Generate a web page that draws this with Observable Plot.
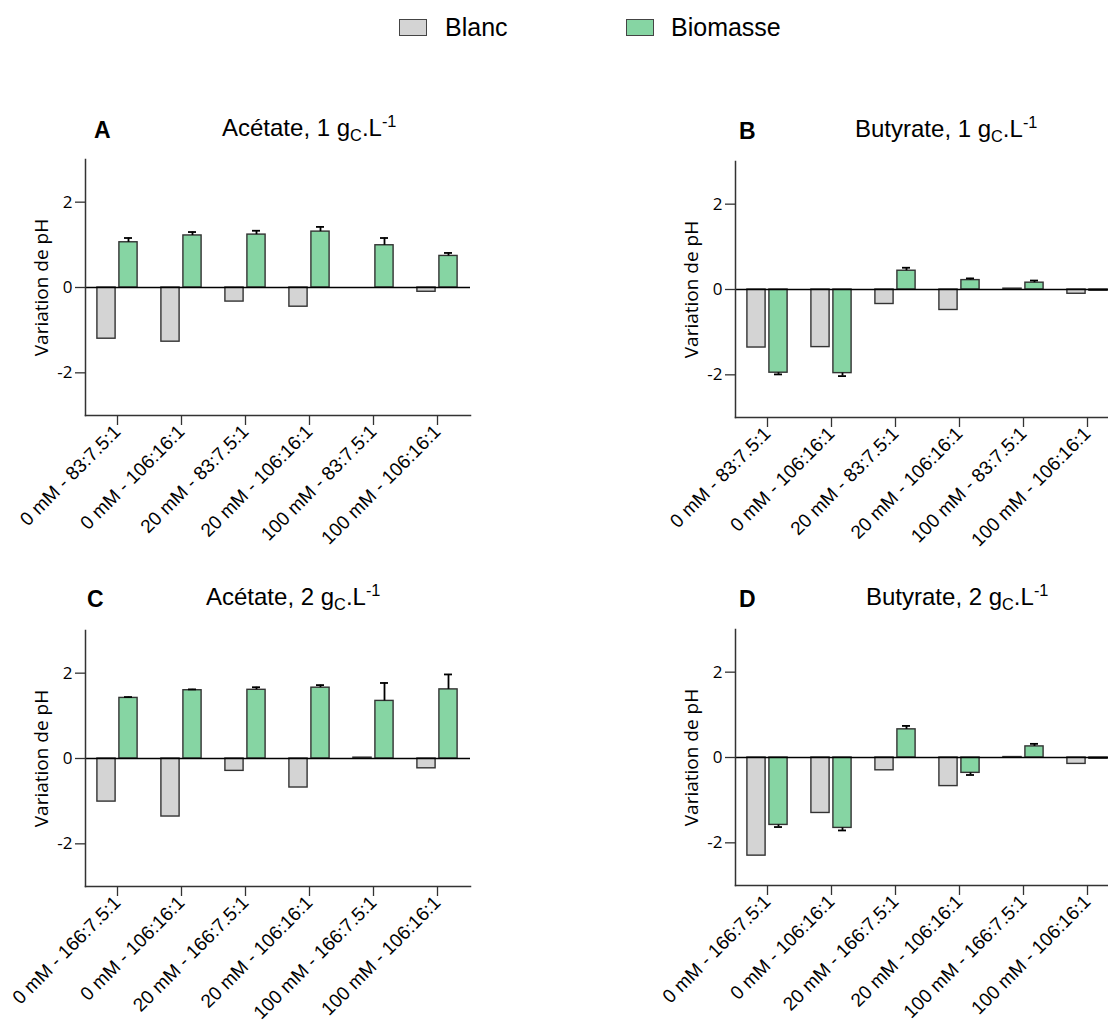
<!DOCTYPE html>
<html>
<head>
<meta charset="utf-8">
<script src="https://cdn.jsdelivr.net/npm/d3@7"></script>
<script src="https://cdn.jsdelivr.net/npm/@observablehq/plot@0.6"></script>
<style>
  html, body { margin: 0; padding: 0; overflow: hidden; background: #fff; }
  #root { position: relative; width: 1108px; height: 1025px; overflow: hidden; font-family: "Liberation Sans", Arial, sans-serif; color: #000; }
  .panel { position: absolute; width: 490px; height: 426px; }
  .panel svg { max-width: none !important; }
  .title { position: absolute; font-size: 24px; line-height: 24px; white-space: nowrap; }
  .letter { position: absolute; font-size: 23px; line-height: 23px; font-weight: bold; }
  .sub { position: relative; top: 0.3em; font-size: 0.68em; }
  .sup { position: relative; top: -0.55em; font-size: 0.68em; }
  .legend-box { position: absolute; width: 26px; height: 15px; border: 1.3px solid #444; }
  .legend-text { position: absolute; font-size: 25px; line-height: 25px; }
</style>
</head>
<body>
<div id="root"></div>
<script>
// ---------- data ----------
const groups = ["Blanc", "Biomasse"];
const groupColors = ["#d4d4d4", "#86d5a3"];

const categories1 = ["0 mM - 83:7.5:1", "0 mM - 106:16:1", "20 mM - 83:7.5:1", "20 mM - 106:16:1", "100 mM - 83:7.5:1", "100 mM - 106:16:1"];
const categories2 = ["0 mM - 166:7.5:1", "0 mM - 106:16:1", "20 mM - 166:7.5:1", "20 mM - 106:16:1", "100 mM - 166:7.5:1", "100 mM - 106:16:1"];
const yTicks = [-2, 0, 2];

// A: Acétate 1 gC/L
const blancA = [-1.20, -1.27, -0.33, -0.45, 0.00, -0.10];
const biomasseA = [1.06, 1.22, 1.24, 1.31, 0.99, 0.74];
const biomasseErrA = [0.10, 0.08, 0.09, 0.11, 0.17, 0.07];
// B: Butyrate 1 gC/L
const blancB = [-1.36, -1.35, -0.34, -0.48, 0.02, -0.10];
const biomasseB = [-1.95, -1.96, 0.44, 0.22, 0.16, -0.03];
const biomasseErrB = [0.04, 0.07, 0.07, 0.04, 0.05, 0.00];
// C: Acétate 2 gC/L
const blancC = [-1.01, -1.36, -0.29, -0.68, 0.02, -0.23];
const biomasseC = [1.42, 1.60, 1.61, 1.66, 1.35, 1.62];
const biomasseErrC = [0.02, 0.02, 0.06, 0.06, 0.42, 0.35];
// D: Butyrate 2 gC/L
const blancD = [-2.30, -1.30, -0.30, -0.67, 0.01, -0.15];
const biomasseD = [-1.58, -1.65, 0.66, -0.36, 0.26, -0.03];
const biomasseErrD = [0.05, 0.06, 0.08, 0.05, 0.06, 0.00];

// ---------- drawing ----------
const root = document.getElementById("root");

function panel(cats, blanc, bio, bioErr, left, top) {
  const blancRows = cats.map((c, i) => ({cat: c, value: blanc[i]}));
  const bioRows = cats.map((c, i) => ({cat: c, value: bio[i], err: bioErr[i]}));
  const errRows = bioRows.filter(d => d.err > 0);
  const errEnd = d => d.value + (d.value < 0 ? -d.err : d.err);
  const plot = Plot.plot({
    width: 490, height: 426,
    marginLeft: 85, marginRight: 20, marginTop: 20, marginBottom: 150,
    style: {background: "transparent", color: "#222", overflow: "visible", maxWidth: "none"},
    x: {type: "band", domain: cats, range: [84, 469.5], padding: 0},
    y: {domain: [-3, 3]},
    marks: [
      Plot.barY(blancRows, {x: "cat", y: "value", fill: groupColors[0], stroke: "#333", strokeWidth: 1.4, insetLeft: 22.9, insetRight: 22.9, dx: -11}),
      Plot.barY(bioRows, {x: "cat", y: "value", fill: groupColors[1], stroke: "#333", strokeWidth: 1.4, insetLeft: 22.9, insetRight: 22.9, dx: 11}),
      Plot.ruleX(errRows, {x: "cat", y1: "value", y2: errEnd, dx: 11, stroke: "#000", strokeWidth: 1.8}),
      Plot.tickY(errRows, {x: "cat", y: errEnd, dx: 11, insetLeft: 28, insetRight: 28, stroke: "#000", strokeWidth: 1.8}),
      Plot.ruleY([0], {stroke: "#000", strokeWidth: 1.5}),
      Plot.frame({anchor: "left", stroke: "#333", strokeWidth: 1.5}),
      Plot.frame({anchor: "bottom", stroke: "#333", strokeWidth: 1.5}),
      Plot.axisY({ticks: yTicks, tickSize: 10, tickPadding: 3, fontSize: 17, fontFamily: "Open Sans", tickFormat: d => String(d), label: null, stroke: "#333", strokeWidth: 1.3, fill: "#000"}),
      Plot.axisX({tickRotate: -45, tickSize: 10, tickPadding: 3, fontSize: 19, fontFamily: "Liberation Sans", label: null, stroke: "#333", strokeWidth: 1.3, fill: "#000"}),
      Plot.text(["Variation de pH"], {frameAnchor: "left", textAnchor: "middle", rotate: -90, dx: -44, fontSize: 19, fontFamily: "Open Sans", fill: "#000"})
    ]
  });
  const div = document.createElement("div");
  div.className = "panel";
  div.style.left = left + "px";
  div.style.top = top + "px";
  div.appendChild(plot);
  root.appendChild(div);
}

panel(categories1, blancA, biomasseA, biomasseErrA, 0, 138.5);
panel(categories1, blancB, biomasseB, biomasseErrB, 650, 140.5);
panel(categories2, blancC, biomasseC, biomasseErrC, 0, 609.5);
panel(categories2, blancD, biomasseD, biomasseErrD, 650, 609);

// titles
function addTitle(letter, letterLeft, letterBase, prefix, conc, titleLeft, titleBase) {
  const l = document.createElement("div");
  l.className = "letter";
  l.textContent = letter;
  l.style.left = letterLeft + "px";
  l.style.top = (letterBase - 19.5) + "px";
  root.appendChild(l);
  const t = document.createElement("div");
  t.className = "title";
  t.innerHTML = `${prefix}, ${conc} g<span class="sub">C</span>.L<span class="sup">-1</span>`;
  t.style.left = titleLeft + "px";
  t.style.top = (titleBase - 20.3) + "px";
  root.appendChild(t);
}
addTitle("A", 94, 138, "Acétate", "1", 222, 136);
addTitle("B", 739, 139, "Butyrate", "1", 855, 137);
addTitle("C", 87, 607, "Acétate", "2", 206, 605);
addTitle("D", 739, 607, "Butyrate", "2", 866, 605);

// legend
const legendPos = [{box: 399, text: 445}, {box: 626, text: 671}];
groups.forEach((g, i) => {
  const b = document.createElement("div");
  b.className = "legend-box";
  b.style.left = legendPos[i].box + "px";
  b.style.top = "19px";
  b.style.background = groupColors[i];
  root.appendChild(b);
  const t = document.createElement("div");
  t.className = "legend-text";
  t.textContent = g;
  t.style.left = legendPos[i].text + "px";
  t.style.top = (36.5 - 21.2) + "px";
  root.appendChild(t);
});
</script>
</body>
</html>
